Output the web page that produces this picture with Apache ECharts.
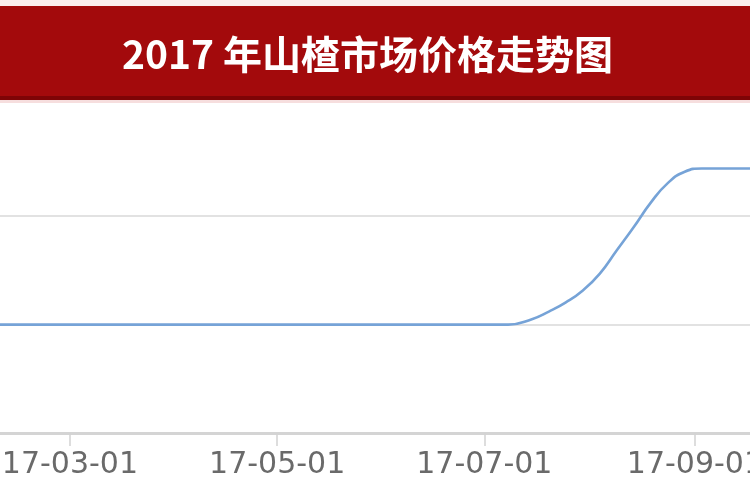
<!DOCTYPE html>
<html>
<head>
<meta charset="utf-8">
<script src="https://cdn.jsdelivr.net/npm/echarts@6/dist/echarts.min.js"></script>
<style>
html,body{margin:0;padding:0;background:#fff;}
#c{width:750px;height:500px;}
</style>
</head>
<body>
<div id="c"></div>
<script>
// ---- data ----
const titleText = '2017 年山楂市场价格走势图';
const dates  = ['2017-02-01','2017-03-01','2017-04-01','2017-05-01','2017-06-01','2017-07-01','2017-07-08','2017-07-15','2017-07-20','2017-07-25','2017-07-30','2017-08-04','2017-08-09','2017-08-14','2017-08-19','2017-08-24','2017-08-29','2017-09-03','2017-09-30'];
const prices = [2, 2, 2, 2, 2, 2, 2.0, 2.1, 2.24, 2.41, 2.63, 2.94, 3.37, 3.8, 4.25, 4.61, 4.82, 4.88, 4.88];
const tickDates = ['2017-03-01','2017-05-01','2017-07-01','2017-09-01'];
const axisStart = '2017-02-08 10:00';
const axisEnd   = '2017-09-17 05:00';

function parseD(s){
  const m = s.match(/(\d+)-(\d+)-(\d+)(?: (\d+):(\d+))?/);
  return new Date(+m[1], +m[2]-1, +m[3], m[4]?+m[4]:0, m[5]?+m[5]:0).getTime();
}
function pad(n){return (n<10?'0':'')+n;}
function fmt(v){
  const d = new Date(v);
  return String(d.getFullYear()).slice(2)+'-'+pad(d.getMonth()+1)+'-'+pad(d.getDate());
}

const chart = echarts.init(document.getElementById('c'), null, {renderer:'canvas'});
chart.setOption({
  backgroundColor:'#fff',
  animation:false,
  grid:{left:0,right:0,top:111,bottom:67,containLabel:false,outerBoundsMode:'none'},
  xAxis:{
    type:'value',
    min:parseD(axisStart),
    max:parseD(axisEnd),
    axisLine:{show:true,lineStyle:{color:'#d4d4d4',width:3}},
    axisTick:{show:true,length:13,customValues:tickDates.map(parseD),lineStyle:{color:'#d2d2d2',width:1.5}},
    axisLabel:{
      customValues:tickDates.map(parseD),
      formatter:fmt,
      color:'#6a6a6a',
      fontFamily:'DejaVu Sans',
      fontSize:30,
      margin:17,
      hideOverlap:false
    },
    splitLine:{show:false}
  },
  yAxis:{
    type:'value',
    min:0,
    max:5.94,
    interval:2,
    axisLine:{show:false},
    axisTick:{show:false},
    axisLabel:{show:false},
    splitLine:{show:true,showMinLine:false,showMaxLine:false,lineStyle:{color:'#e2e2e2',width:2}}
  },
  series:[{
    type:'line',
    data:dates.map((d,i)=>[parseD(d),prices[i]]),
    smooth:0.5,
    showSymbol:false,
    symbol:'none',
    lineStyle:{color:'#76a3d7',width:2.6},
    clip:true
  }],
  graphic:[
    {type:'rect',left:0,top:0,shape:{width:750,height:6},style:{fill:'#fbeeee'},z:99},
    {type:'rect',left:0,top:6,shape:{width:750,height:94},style:{fill:'#a30a0c'},z:100},
    {type:'rect',left:0,top:96,shape:{width:750,height:4},style:{fill:'#7e0406'},z:101},
    {type:'rect',left:0,top:100,shape:{width:750,height:3},style:{fill:'#f6dede'},z:101},
    {type:'text',left:122,top:35,z:102,
     style:{text:titleText,fill:'#ffffff',font:'bold 39px "Noto Sans CJK SC", sans-serif'}}
  ]
});
</script>
</body>
</html>
